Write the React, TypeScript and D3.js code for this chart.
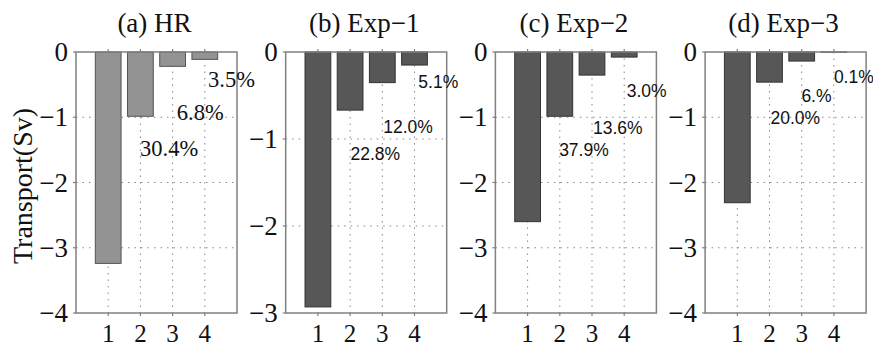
import React, { useEffect, useRef } from 'react';
import * as d3 from 'd3';

// bar categories and panel titles
const categories = [1, 2, 3, 4];
const panelTitles = ['(a) HR', '(b) Exp\u22121', '(c) Exp\u22122', '(d) Exp\u22123'];

// transport (Sv) per category
const hrValues = [-3.24, -0.985, -0.22, -0.113];
const exp1Values = [-2.93, -0.668, -0.352, -0.15];
const exp2Values = [-2.6, -0.985, -0.354, -0.078];
const exp3Values = [-2.31, -0.462, -0.139, -0.0023];

// y axis lower limits per panel
const yMins = [-4, -3, -4, -4];

// percentage annotations
const hrPercents = ['30.4%', '6.8%', '3.5%'];
const exp1Percents = ['22.8%', '12.0%', '5.1%'];
const exp2Percents = ['37.9%', '13.6%', '3.0%'];
const exp3Percents = ['20.0%', '6.%', '0.1%'];

// annotation anchors in data units (category, transport)
const hrLabelX = [1.99, 3.13, 4.1];
const hrLabelY = [-1.6, -1.04, -0.53];
const exp1LabelX = [2.01, 3.03, 4.12];
const exp1LabelY = [-1.24, -0.93, -0.41];
const exp2LabelX = [1.98, 3.03, 4.08];
const exp2LabelY = [-1.59, -1.26, -0.69];
const exp3LabelX = [2.03, 2.99, 4.0];
const exp3LabelY = [-1.1, -0.77, -0.47];

const panels = [
  { values: hrValues, percents: hrPercents, lx: hrLabelX, ly: hrLabelY },
  { values: exp1Values, percents: exp1Percents, lx: exp1LabelX, ly: exp1LabelY },
  { values: exp2Values, percents: exp2Percents, lx: exp2LabelX, ly: exp2LabelY },
  { values: exp3Values, percents: exp3Percents, lx: exp3LabelX, ly: exp3LabelY },
];

const W = 873;
const H = 349;

export default function App() {
  const ref = useRef<SVGSVGElement>(null);

  useEffect(() => {
    const svg = d3.select(ref.current);
    svg.selectAll('*').remove();

    const serif = '"Liberation Serif", "Times New Roman", serif';
    const sans = '"Liberation Sans", Arial, sans-serif';
    const frameColor = '#808080';

    const top = 52;
    const bottom = 313;
    const panelW = 161;
    const step = 209.7;

    panels.forEach((p, i) => {
      const left = 76 + i * step;
      const x = d3.scaleLinear().domain([0, 5]).range([left, left + panelW]);
      const y = d3.scaleLinear().domain([yMins[i], 0]).range([bottom, top]);
      const g = svg.append('g');
      const yTicks = y.ticks(Math.abs(yMins[i]));

      // white plot area
      g.append('rect')
        .attr('x', left).attr('y', top)
        .attr('width', panelW).attr('height', bottom - top)
        .attr('fill', '#fff');

      // dotted grid
      g.selectAll('.hgrid')
        .data(yTicks.filter(t => t !== 0 && t !== yMins[i]))
        .enter().append('line')
        .attr('x1', left).attr('x2', left + panelW)
        .attr('y1', d => y(d)).attr('y2', d => y(d))
        .attr('stroke', '#888').attr('stroke-width', 1)
        .attr('stroke-dasharray', '1.5,5');

      g.selectAll('.vgrid')
        .data(categories)
        .enter().append('line')
        .attr('x1', d => x(d)).attr('x2', d => x(d))
        .attr('y1', top).attr('y2', bottom)
        .attr('stroke', '#888').attr('stroke-width', 1)
        .attr('stroke-dasharray', '1.5,5');

      // bars
      g.selectAll('.bar')
        .data(p.values)
        .enter().append('rect')
        .attr('x', (d, j) => x(categories[j] - 0.4))
        .attr('width', x(0.8) - x(0))
        .attr('y', y(0))
        .attr('height', d => Math.max(0, y(d) - y(0)))
        .attr('fill', i === 0 ? '#939393' : '#575757')
        .attr('stroke', i === 0 ? '#555' : '#333')
        .attr('stroke-width', 1);

      // frame
      g.append('rect')
        .attr('x', left).attr('y', top)
        .attr('width', panelW).attr('height', bottom - top)
        .attr('fill', 'none')
        .attr('stroke', frameColor).attr('stroke-width', 1.5);

      // small tick marks
      categories.forEach(c => {
        g.append('line').attr('x1', x(c)).attr('x2', x(c))
          .attr('y1', bottom).attr('y2', bottom + 3)
          .attr('stroke', frameColor).attr('stroke-width', 1.2);
        g.append('line').attr('x1', x(c)).attr('x2', x(c))
          .attr('y1', top).attr('y2', top - 3)
          .attr('stroke', frameColor).attr('stroke-width', 1.2);
      });
      yTicks.forEach(t => {
        g.append('line').attr('x1', left).attr('x2', left - 3)
          .attr('y1', y(t)).attr('y2', y(t))
          .attr('stroke', frameColor).attr('stroke-width', 1.2);
      });

      // y tick labels
      g.selectAll('.ytl')
        .data(yTicks)
        .enter().append('text')
        .attr('x', left - 8)
        .attr('y', d => y(d))
        .attr('dy', '0.34em')
        .attr('text-anchor', 'end')
        .attr('font-family', serif)
        .attr('font-size', 27)
        .attr('fill', '#111')
        .text(d => d3.format('d')(d).replace('-', '\u2212'));

      // x tick labels
      g.selectAll('.xtl')
        .data(categories)
        .enter().append('text')
        .attr('x', d => x(d))
        .attr('y', 342)
        .attr('text-anchor', 'middle')
        .attr('font-family', serif)
        .attr('font-size', 25)
        .attr('fill', '#111')
        .text(d => d);

      // title
      g.append('text')
        .attr('x', left + panelW / 2 - 2)
        .attr('y', 32)
        .attr('text-anchor', 'middle')
        .attr('font-family', serif)
        .attr('font-size', 27)
        .attr('fill', '#111')
        .text(panelTitles[i]);

      // percentage annotations
      g.selectAll('.pct')
        .data(p.percents)
        .enter().append('text')
        .attr('x', (d, j) => x(p.lx[j]))
        .attr('y', (d, j) => y(p.ly[j]))
        .attr('font-family', i === 0 ? serif : sans)
        .attr('font-size', i === 0 ? 22.5 : 17.5)
        .attr('fill', '#111')
        .text(d => d);
    });

    // y axis title
    svg.append('text')
      .attr('transform', 'translate(32,186) rotate(-90)')
      .attr('text-anchor', 'middle')
      .attr('font-family', serif)
      .attr('font-size', 28)
      .attr('fill', '#111')
      .text('Transport(Sv)');
  }, []);

  return (
    <div style={{ position: 'absolute', left: 0, top: 0 }}>
      <svg ref={ref} width={W} height={H} style={{ display: 'block', background: '#fff' }} />
    </div>
  );
}
